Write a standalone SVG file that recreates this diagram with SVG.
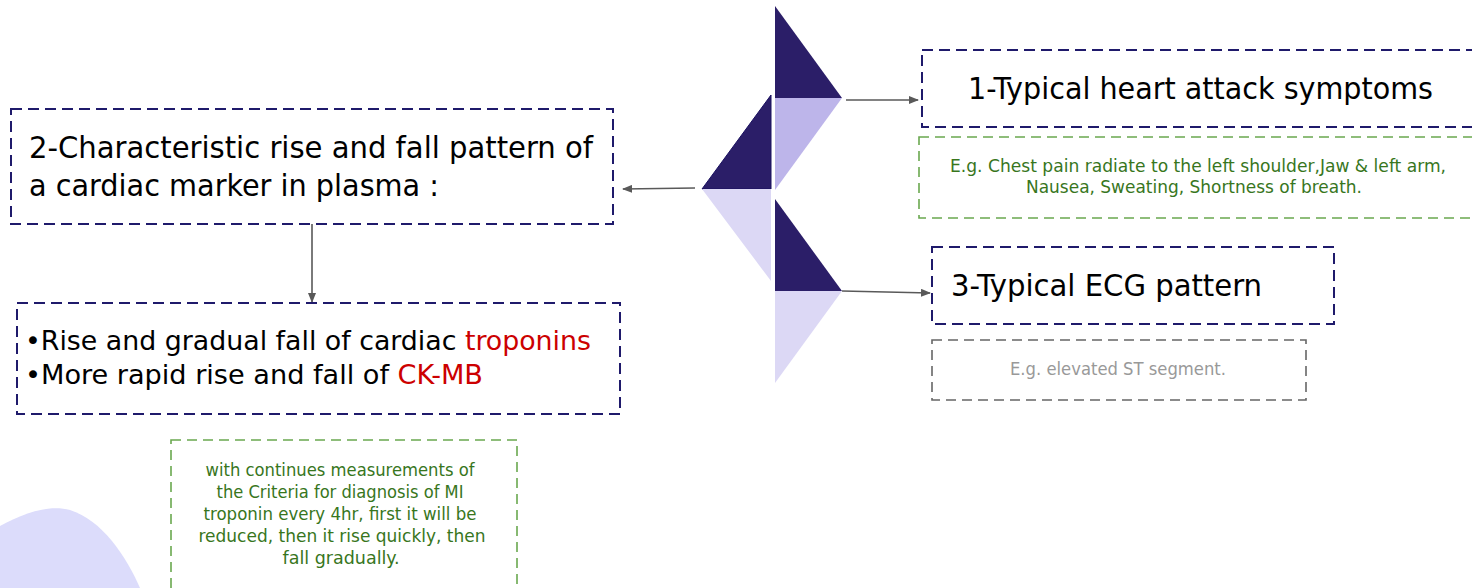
<svg xmlns="http://www.w3.org/2000/svg" width="1472" height="588" viewBox="0 0 1472 588">
<style>
.navy{fill:#fff;stroke:#1f1a6b;stroke-width:2;stroke-dasharray:11 6}
.green{fill:#fff;stroke:#6aa84f;stroke-width:1.6;stroke-dasharray:10 6}
.gray{fill:#fff;stroke:#666;stroke-width:1.6;stroke-dasharray:10 6}
.big{font-family:"DejaVu Sans Condensed","DejaVu Sans",sans-serif;font-size:30px;fill:#000}
.mid{font-family:"DejaVu Sans Condensed","DejaVu Sans",sans-serif;font-size:27px;fill:#000}
.sm{font-family:"DejaVu Sans Condensed","DejaVu Sans",sans-serif;font-size:17px;fill:#38761d;text-anchor:middle}
.red{fill:#cc0000}
.dark{fill:#2b1e68}
.lt{fill:#bdb5ea}
.vlt{fill:#dcd8f5}
.conn{stroke:#595959;stroke-width:1.6;fill:none;marker-end:url(#ah)}
</style>
<defs>
<marker id="ah" markerWidth="10" markerHeight="8" refX="9" refY="4" orient="auto" markerUnits="userSpaceOnUse">
<path d="M0,0 L10,4 L0,8 Z" fill="#595959"/>
</marker>
</defs>
<rect width="1472" height="588" fill="#fff"/>
<path d="M0,526 C22,514 48,504 70,510 C102,520 126,556 140,588 L0,588 Z" fill="#dcdcfb"/>
<g id="shapes">
<polygon class="dark" points="775,6 775,98 842,98"/>
<polygon class="lt" points="775,98 842,98 775,190"/>
<polygon class="dark" points="771,95 771,189 702,189" stroke="#1a1060" stroke-width="1"/>
<polygon class="vlt" points="702,189 771,189 771,281"/>
<polygon class="dark" points="775,199 775,291 842,291"/>
<polygon class="vlt" points="775,291 842,291 775,383"/>
</g>
<g id="connectors">
<line class="conn" x1="846" y1="100" x2="918" y2="100"/>
<line class="conn" x1="842" y1="291" x2="930" y2="293"/>
<line class="conn" x1="695" y1="188" x2="623" y2="189"/>
<line class="conn" x1="312" y1="224" x2="312" y2="302"/>
</g>
<g id="node-criteria2">
<rect class="navy" x="11" y="109" width="602" height="115"/>
<text class="big" x="29" y="158" textLength="564" lengthAdjust="spacingAndGlyphs">2-Characteristic rise and fall pattern of</text>
<text class="big" x="29" y="196" textLength="410" lengthAdjust="spacingAndGlyphs">a cardiac marker in plasma :</text>
</g>
<g id="node-markers">
<rect class="navy" x="17" y="303" width="603" height="111"/>
<text class="mid" x="25" y="350" textLength="566" lengthAdjust="spacingAndGlyphs">•Rise and gradual fall of cardiac <tspan class="red">troponins</tspan></text>
<text class="mid" x="25" y="384" textLength="458" lengthAdjust="spacingAndGlyphs">•More rapid rise and fall of <tspan class="red">CK-MB</tspan></text>
</g>
<g id="node-note-troponin">
<rect class="green" x="171" y="440" width="346" height="160"/>
<text class="sm" x="340" y="476" textLength="269" lengthAdjust="spacingAndGlyphs">with continues measurements  of</text>
<text class="sm" x="340" y="498" textLength="247" lengthAdjust="spacingAndGlyphs">the Criteria for diagnosis of MI</text>
<text class="sm" x="340" y="520" textLength="273" lengthAdjust="spacingAndGlyphs">troponin every 4hr, first it will be</text>
<text class="sm" x="342" y="542" textLength="287" lengthAdjust="spacingAndGlyphs">reduced, then it rise quickly, then</text>
<text class="sm" x="341" y="564" textLength="117" lengthAdjust="spacingAndGlyphs">fall gradually.</text>
</g>
<g id="node-symptoms1">
<rect class="navy" x="922" y="50" width="560" height="77"/>
<text class="big" x="968" y="99" textLength="465" lengthAdjust="spacingAndGlyphs">1-Typical heart attack symptoms</text>
</g>
<g id="node-note-symptoms">
<rect class="green" x="919" y="137" width="563" height="81"/>
<text class="sm" x="1198" y="172" textLength="496" lengthAdjust="spacingAndGlyphs">E.g. Chest pain radiate to the left shoulder,Jaw &amp; left arm,</text>
<text class="sm" x="1194" y="193" textLength="336" lengthAdjust="spacingAndGlyphs">Nausea, Sweating, Shortness of breath.</text>
</g>
<g id="node-ecg3">
<rect class="navy" x="932" y="247" width="402" height="77"/>
<text class="big" x="951" y="296" textLength="311" lengthAdjust="spacingAndGlyphs">3-Typical ECG pattern</text>
</g>
<g id="node-note-ecg">
<rect class="gray" x="932" y="340" width="374" height="60"/>
<text class="sm" x="1118" y="375" style="fill:#999" textLength="216" lengthAdjust="spacingAndGlyphs">E.g. elevated ST segment.</text>
</g>
</svg>
